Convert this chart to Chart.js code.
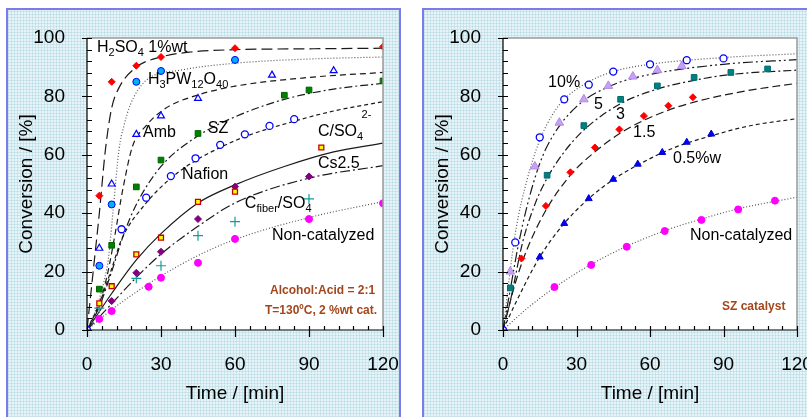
<!DOCTYPE html>
<html>
<head>
<meta charset="utf-8">
<script src="https://cdn.jsdelivr.net/npm/chart.js@4.4.1/dist/chart.umd.min.js"></script>
<style>
  html, body { margin: 0; padding: 0; width: 807px; height: 417px; overflow: hidden; background: #fff; }
  .panel {
    position: absolute; top: 8px; width: 395px; height: 420px; box-sizing: border-box;
    border: 2px solid #7b7bea;
    background-color: #e6f4f8;
    background-image:
      repeating-linear-gradient(0deg, rgba(140, 195, 212, .28) 0 1px, transparent 1px 3px),
      repeating-linear-gradient(90deg, rgba(140, 195, 212, .28) 0 1px, transparent 1px 3px);
  }
  canvas { position: absolute; }
</style>
</head>
<body>
<div class="panel" style="left:6px"></div>
<div class="panel" style="left:422px"></div>
<canvas id="left" width="393" height="408" style="left:7px;top:9px"></canvas>
<canvas id="right" width="393" height="408" style="left:423px;top:9px"></canvas>
<script>
// axis ticks
const xTicks = [0, 30, 60, 90, 120];
const yTicks = [0, 20, 40, 60, 80, 100];

// left panel: measured points [min, %]
const h2so4Pts = [[5, 46], [10, 85], [20, 90.5], [30, 93.5], [60, 96.5], [120, 97]];
const h3pwPts = [[5, 22], [10, 43], [20, 85], [30, 88.7], [60, 92.5]];
const ambPts = [[5, 28], [10, 50], [20, 67], [30, 73.3], [45, 79.3], [75, 87.3], [100, 88.8]];
const szPts = [[5, 14], [10, 29], [20, 49], [30, 58.2], [45, 67.3], [80, 80.4], [90, 82.2], [120, 85.3]];
const nafionPts = [[0, 0], [14, 34.5], [24, 45.3], [34, 52.7], [44, 58.8], [54, 63.4], [64, 67], [74, 69.9], [84, 72.2]];
const cso4Pts = [[5, 9.1], [10, 15], [20, 25.9], [30, 31.6], [45, 43.9], [60, 47.4], [95, 62.5]];
const cs25Pts = [[10, 9.9], [20, 19.6], [30, 26.8], [45, 38], [60, 49.1], [90, 52.6]];
const cfiberPts = [[5, 7.5], [20, 17.7], [30, 22], [45, 32.3], [60, 37.1], [90, 44.9]];
const noncatPts = [[5, 3.8], [10, 6.5], [25, 14.8], [30, 17.9], [45, 23], [60, 31.2], [90, 38], [120, 43.4]];

// left panel: model curves
const h2so4Fit = [[0, 0], [3, 24], [5, 40], [7.5, 62], [10, 76], [13, 83], [20, 90], [30, 93.5], [42, 95.2], [60, 96], [90, 96.3], [120, 96.5]];
const h3pwFit = [[0, 0], [4, 8], [7, 17], [8.6, 24], [10.7, 42], [13, 62], [15, 70], [17.5, 77], [24, 85.5], [38, 89], [62, 91.5], [90, 92.8], [120, 93.5]];
const ambFit = [[0, 0], [5, 9], [8, 18], [11, 31], [14.7, 49], [18.5, 63], [24, 70], [32, 76], [45, 80.5], [60, 83.5], [90, 86.5], [120, 88.2]];
const szFit = [[0, 0], [5, 8], [10, 20], [15, 33], [20, 43], [30, 56], [45, 66.5], [60, 73], [80, 79], [100, 82.5], [120, 84.5]];
const nafionFit = [[0, 0], [5, 9], [10, 21], [14, 31], [24, 43.5], [34, 52], [44, 58], [54, 62.5], [64, 66.2], [84, 71.5], [100, 75], [120, 78.2]];
const cso4Fit = [[0, 0], [10, 12.5], [20, 24], [30, 33], [45, 43.5], [60, 49.7], [80, 56], [100, 61], [120, 64]];
const cs25Fit = [[0, 0], [10, 9], [20, 18], [30, 26], [45, 35.5], [60, 43.5], [90, 52], [120, 56.3]];
const noncatFit = [[0, 0], [10, 7], [20, 13], [30, 18.5], [45, 25.5], [60, 31], [90, 38.5], [120, 44]];

// right panel: SZ catalyst loading
const p10Pts = [[0, 0], [5, 30], [15, 66], [25, 79], [35, 84], [45, 88.5], [60, 91], [75, 92.4], [90, 93]];
const p5Pts = [[3, 20], [13, 56], [23, 71], [33, 79], [43, 83.6], [53, 86.8], [63, 89], [73, 90.4]];
const p3Pts = [[3, 14.4], [18, 53], [33, 70], [48, 79], [63, 83.6], [78, 86.5], [93, 88.2], [108, 89.4]];
const p15Pts = [[7.5, 24.5], [17.5, 42.5], [27.5, 54], [37.5, 62.5], [47.5, 68.7], [57.5, 73.3], [67.5, 76.8], [77.5, 79.7]];
const p05Pts = [[15, 25], [25, 36.5], [35, 45], [45, 51.6], [55, 56.8], [65, 60.8], [75, 64.3], [85, 67.1]];
const ncRPts = [[21, 14.7], [36, 22.3], [50.5, 28.5], [66, 33.9], [81, 37.7], [96, 41.3], [111, 44.3]];

const p10Fit = [[0, 0], [5, 33], [10, 52], [15, 65], [20, 73.5], [25, 79], [35, 85], [45, 88.5], [60, 91], [90, 93.3], [120, 94.6]];
const p5Fit = [[0, 0], [3, 14], [6, 28], [10, 43], [15, 57], [20, 66], [30, 76.5], [45, 84], [60, 87.5], [90, 91], [120, 92.6]];
const p3Fit = [[0, 0], [3, 10], [8, 30], [13, 43], [18, 52], [25, 61], [33, 68.5], [48, 77.5], [63, 82.5], [78, 85.5], [93, 87.5], [120, 89]];
const p15Fit = [[0, 0], [5, 16], [10, 28], [17.5, 41], [27.5, 53], [37.5, 61], [50, 68.5], [65, 74.5], [80, 78.5], [100, 82], [120, 84.5]];
const p05Fit = [[0, 0], [5, 9], [15, 25], [25, 36.5], [35, 45], [45, 51.5], [55, 56.5], [70, 62.5], [85, 66.5], [100, 69.8], [120, 72.4]];
const ncRFit = [[0, 0], [10, 7.5], [21, 14.5], [36, 22.5], [50, 28.5], [66, 34], [81, 38], [96, 41.5], [120, 45.5]];

const FONT = 'Liberation Sans, Arial, sans-serif';
const BROWN = '#a4461c';

function pts(a) { return a.map(p => ({x: p[0], y: p[1]})); }

function marker(data, style, border, fill, r, bw) {
    return {
        data: pts(data), showLine: false, pointStyle: style, pointRadius: r || 3.5,
        pointHoverRadius: 0, pointBorderColor: border, pointBackgroundColor: fill,
        pointBorderWidth: bw || 1
    };
}

function fit(data, dash, color) {
    return {
        data: pts(data), showLine: true, pointRadius: 0, pointHoverRadius: 0,
        borderColor: color || '#1a1a1a', borderWidth: 1.2, borderDash: dash,
        cubicInterpolationMode: 'monotone', fill: false
    };
}

// text with sub/superscripts: parts are [text, 'sub'|'sup'|undefined]
function drawRich(ctx, x, y, parts, size, color, bold) {
    let cx = x;
    parts.forEach(([t, k]) => {
        const s = k ? Math.round(size * 0.68) : size;
        ctx.font = (bold ? 'bold ' : '') + s + 'px ' + FONT;
        ctx.fillStyle = color || '#000';
        const dy = k === 'sub' ? 4 : k === 'sup' ? -7 : 0;
        ctx.fillText(t, cx, y + dy);
        cx += ctx.measureText(t).width;
    });
}

function framePlugin(notes) {
    return {
        id: 'frame',
        beforeDraw(chart) {
            const {ctx, chartArea: a} = chart;
            ctx.save();
            ctx.fillStyle = '#fff';
            ctx.fillRect(a.left, a.top, a.right - a.left, a.bottom - a.top);
            ctx.restore();
        },
        afterDraw(chart) {
            const {ctx, chartArea: a, scales: {x, y}} = chart;
            ctx.save();
            // light frame top / right
            ctx.strokeStyle = '#9a9a9a';
            ctx.lineWidth = 1.5;
            ctx.beginPath();
            ctx.moveTo(a.left, a.top); ctx.lineTo(a.right, a.top); ctx.lineTo(a.right, a.bottom);
            ctx.stroke();
            // axes
            ctx.strokeStyle = '#000';
            ctx.lineWidth = 1.2;
            ctx.beginPath();
            ctx.moveTo(a.left, a.top); ctx.lineTo(a.left, a.bottom); ctx.lineTo(a.right, a.bottom);
            for (let v = 0; v <= 100; v += 4) {
                const py = Math.round(y.getPixelForValue(v)) + 0.5;
                const major = yTicks.includes(v);
                ctx.moveTo(a.left - (major ? 5 : 0), py); ctx.lineTo(a.left + 5, py);
            }
            for (let v = 0; v <= 120; v += 6) {
                const px = Math.round(x.getPixelForValue(v)) + 0.5;
                const major = xTicks.includes(v);
                ctx.moveTo(px, a.bottom - 4); ctx.lineTo(px, a.bottom + (major ? 7 : 0));
            }
            ctx.stroke();
            // annotations
            ctx.textBaseline = 'alphabetic';
            notes.forEach(n => {
                let px = x.getPixelForValue(n.t), py = y.getPixelForValue(n.c);
                if (n.alignRight) {
                    ctx.font = (n.bold ? 'bold ' : '') + n.size + 'px ' + FONT;
                    px -= ctx.measureText(n.parts.map(p => p[0]).join('')).width;
                }
                drawRich(ctx, px, py, n.parts, n.size, n.color, n.bold);
            });
            ctx.restore();
        }
    };
}

function makeChart(id, datasets, notes, padRight) {
    new Chart(document.getElementById(id), {
        type: 'scatter',
        data: {datasets},
        options: {
            responsive: false,
            animation: false,
            events: [],
            layout: {padding: {left: 0, top: 29, right: padRight, bottom: 0}},
            plugins: {legend: {display: false}, tooltip: {enabled: false}},
            scales: {
                x: {
                    type: 'linear', min: 0, max: 120,
                    afterFit: s => { s.height = 87; s.paddingLeft = 0; s.paddingRight = 0; },
                    afterBuildTicks: s => { s.ticks = xTicks.map(v => ({value: v})); },
                    grid: {display: false}, border: {display: false},
                    ticks: {color: '#000', font: {family: FONT, size: 19}, padding: 15, maxRotation: 0},
                    title: {display: true, text: 'Time / [min]', color: '#000',
                        font: {family: FONT, size: 19}, padding: {top: 0, bottom: 12}}
                },
                y: {
                    type: 'linear', min: 0, max: 100,
                    afterFit: s => { s.width = 80; s.paddingTop = 0; s.paddingBottom = 0; },
                    afterBuildTicks: s => { s.ticks = yTicks.map(v => ({value: v})); },
                    grid: {display: false}, border: {display: false},
                    ticks: {color: '#000', font: {family: FONT, size: 19}, padding: 14},
                    title: {display: true, text: 'Conversion / [%]', color: '#000',
                        font: {family: FONT, size: 19}, padding: {top: 8, bottom: 0}}
                }
            }
        },
        plugins: [framePlugin(notes)]
    });
}

const leftSets = [
    marker(nafionPts, 'circle', '#0000ff', '#ffffff', 3.5, 1.3),
    marker(h2so4Pts, 'rectRot', '#ff0000', '#ff0000', 3.5),
    marker(h3pwPts, 'circle', '#0000ff', '#00b0f0', 3.5),
    marker(ambPts, 'triangle', '#0000ff', '#ffffff', 4, 1.2),
    marker(szPts, 'rect', '#006400', '#008000', 4),
    marker(cso4Pts, 'rect', '#c00000', '#ffff00', 3.5, 1.3),
    marker(cs25Pts, 'rectRot', '#800080', '#800080', 3.5),
    marker(cfiberPts, 'cross', '#139c9c', '#139c9c', 5, 1.2),
    marker(noncatPts, 'circle', '#ff00ff', '#ff00ff', 3.5),
    fit(h2so4Fit, [11, 5]),
    fit(h3pwFit, [1, 2], '#555'),
    fit(ambFit, [6, 4]),
    fit(szFit, [8, 3, 2, 3]),
    fit(nafionFit, [4, 3]),
    fit(cso4Fit, []),
    fit(cs25Fit, [10, 3, 2, 3]),
    fit(noncatFit, [1, 2], '#555')
];

const leftNotes = [
    {t: 4.05, c: 95.2, size: 16, parts: [['H'], ['2', 'sub'], ['SO'], ['4', 'sub'], [' 1%wt']]},
    {t: 24.7, c: 84.2, size: 16, parts: [['H'], ['3', 'sub'], ['PW'], ['12', 'sub'], ['O'], ['40', 'sub']]},
    {t: 22.7, c: 66, size: 16, parts: [['Amb']]},
    {t: 49, c: 67.5, size: 16, parts: [['SZ']]},
    {t: 93.6, c: 66.4, size: 16, parts: [['C/SO'], ['4', 'sub']]},
    {t: 111.3, c: 70.2, size: 16, parts: [['2-', 'sup']]},
    {t: 38.5, c: 51.7, size: 16, parts: [['Nafion']]},
    {t: 93.6, c: 55.5, size: 16, parts: [['Cs2.5']]},
    {t: 64, c: 41.8, size: 16, parts: [['C'], ['fiber', 'sub'], ['/SO'], ['4', 'sub']]},
    {t: 75, c: 30.8, size: 16, parts: [['Non-catalyzed']]},
    {t: 116.8, c: 12.3, size: 12, bold: true, color: BROWN, alignRight: true, parts: [['Alcohol:Acid = 2:1']]},
    {t: 117.6, c: 5.5, size: 12, bold: true, color: BROWN, alignRight: true, parts: [['T=130ºC, 2 %wt cat.']]}
];

const rightSets = [
    marker(p10Pts, 'circle', '#0000ff', '#ffffff', 3.5, 1.3),
    marker(p5Pts, 'triangle', '#b08ae6', '#c7a2f2', 5),
    marker(p3Pts, 'rect', '#006b6b', '#008080', 4),
    marker(p15Pts, 'rectRot', '#ff0000', '#ff0000', 3.5),
    marker(p05Pts, 'triangle', '#0000cc', '#0000ff', 4),
    marker(ncRPts, 'circle', '#ff00ff', '#ff00ff', 3.5),
    fit(p10Fit, [1, 2], '#555'),
    fit(p5Fit, [10, 3, 2, 3, 2, 3]),
    fit(p3Fit, [8, 3, 2, 3]),
    fit(p15Fit, [8, 4]),
    fit(p05Fit, [4, 3]),
    fit(ncRFit, [1, 2], '#555')
];

const rightNotes = [
    {t: 18.4, c: 83.2, size: 16, parts: [['10%']]},
    {t: 37.1, c: 75.7, size: 16, parts: [['5']]},
    {t: 46.1, c: 72.3, size: 16, parts: [['3']]},
    {t: 53.1, c: 66.1, size: 16, parts: [['1.5']]},
    {t: 69.4, c: 57.2, size: 16, parts: [['0.5%w']]},
    {t: 76.3, c: 30.8, size: 16, parts: [['Non-catalyzed']]},
    {t: 89.4, c: 6.8, size: 12, bold: true, color: BROWN, parts: [['SZ catalyst']]}
];

makeChart('left', leftSets, leftNotes, 17);
makeChart('right', rightSets, rightNotes, 19);
</script>
</body>
</html>
